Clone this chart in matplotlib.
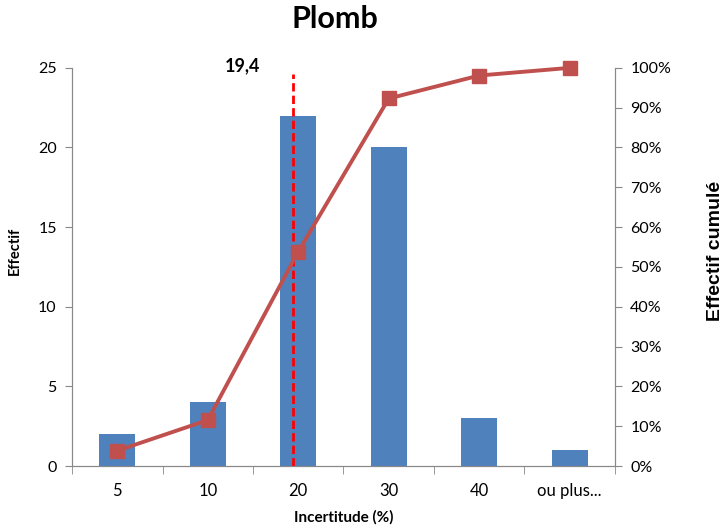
import numpy as np
import matplotlib
matplotlib.use("Agg")
import matplotlib.pyplot as plt
from matplotlib.ticker import FixedLocator, PercentFormatter

categories = ["5", "10", "20", "30", "40", "ou plus..."]
effectif = [2, 4, 22, 20, 3, 1]
mediane = 19.4
mediane_label = "19,4"

bar_color = "#4F81BD"
line_color = "#C0504D"
grey = "#888888"

plt.rcParams["font.family"] = ["Lato", "DejaVu Sans"]

cumul = np.cumsum(effectif) / np.sum(effectif) * 100
x = np.arange(len(categories))

fig = plt.figure(figsize=(7.23, 5.26), dpi=100)
ax = fig.add_axes([0.0996, 0.114, 0.751, 0.757])
ax2 = ax.twinx()

ax.bar(x, effectif, width=0.4, color=bar_color, zorder=2)
ax.set_xlim(-0.5, len(categories) - 0.5)
ax.set_ylim(0, 25)
ax.set_yticks(range(0, 26, 5))

# position of the median between the "10" and "20" classes
xm = 1 + (mediane - 10) / 10
ax.plot([xm, xm], [0, 24.6], color="#FF0000", lw=2, ls=(0, (3, 1.5)), zorder=4)
ax.text(xm - 0.56, 24.6, mediane_label, ha="center", va="bottom",
        fontsize=13, fontweight="bold")

ax2.plot(x, cumul, color=line_color, lw=2.8, marker="s", ms=10, zorder=5,
         clip_on=False)
ax2.set_ylim(0, 100)
ax2.set_yticks(range(0, 101, 10))
ax2.yaxis.set_major_formatter(PercentFormatter(decimals=0))

ax.set_xticks(x)
ax.set_xticklabels(categories)
ax.xaxis.set_minor_locator(FixedLocator(np.arange(-0.5, len(categories), 1)))
ax.tick_params(axis="x", which="major", length=0, labelsize=12, pad=12)
ax.tick_params(axis="x", which="minor", length=6, color=grey, direction="out")
ax.tick_params(axis="y", length=5, color=grey, labelsize=11.5, pad=6)
ax2.tick_params(axis="y", length=5, color=grey, labelsize=11.5, pad=6)

for a in (ax, ax2):
    a.spines["top"].set_visible(False)
    for s in ("left", "right", "bottom"):
        a.spines[s].set_color(grey)
        a.spines[s].set_linewidth(0.8)

ax.set_xlabel("Incertitude (%)", fontsize=11, fontweight="bold", labelpad=8)
ax.set_ylabel("Effectif", fontsize=10.5, fontweight="bold")
ax.yaxis.set_label_coords(-0.092, 0.54)
ax2.set_ylabel("Effectif cumulé", fontsize=14, fontweight="bold",
               family="Liberation Sans")
ax2.yaxis.set_label_coords(1.17, 0.54)
fig.suptitle("Plomb", fontsize=22, fontweight="bold", x=0.463, y=0.99)

fig.savefig("out.png", dpi=100)
